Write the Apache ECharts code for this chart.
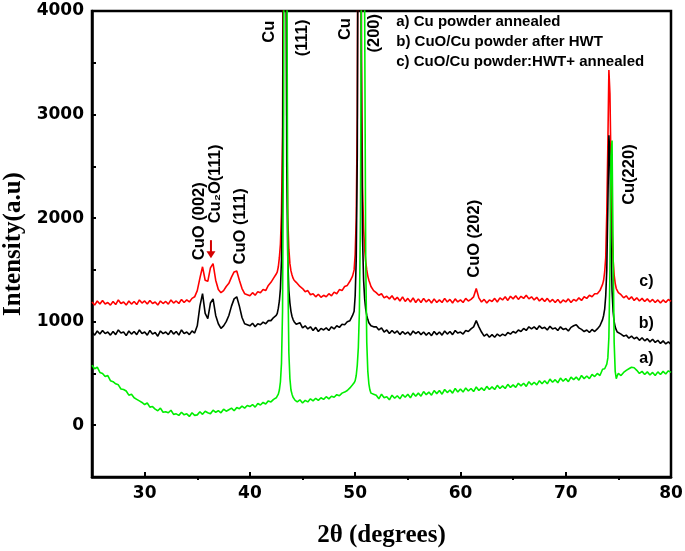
<!DOCTYPE html>
<html>
<head>
<meta charset="utf-8">
<script src="https://cdn.jsdelivr.net/npm/echarts@6/dist/echarts.min.js"></script>
<style>
html,body{margin:0;padding:0;background:#fff;}
#chart{width:685px;height:551px;}
</style>
</head>
<body>
<div id="chart"></div>
<script>
// ---- data ----
const twoTheta = [
  25,25.25,25.5,25.75,26,26.25,26.5,26.75,27,27.25,27.5,27.75,28,28.25,28.5,28.75,29,29.25,29.5,29.75,
  30,30.25,30.5,30.75,31,31.25,31.5,31.75,32,32.25,32.5,32.75,33,33.25,33.5,33.75,34,34.25,34.5,34.75,
  35,35.25,35.5,35.75,36,36.25,36.5,36.75,37,37.25,37.5,37.75,38,38.25,38.5,38.75,39,39.25,39.5,39.75,
  40,40.25,40.5,40.75,41,41.25,41.5,41.75,42,42.25,42.5,
  42.6,42.7,42.8,42.9,43,43.1,43.2,43.3,43.4,43.5,43.6,43.7,43.8,43.9,44,44.1,44.2,44.3,44.4,
  44.5,44.75,45,45.25,45.5,45.75,46,46.25,46.5,46.75,47,47.25,47.5,47.75,48,48.25,48.5,48.75,49,49.25,49.5,49.75,
  49.9,50,50.1,50.2,50.3,50.4,50.5,50.6,50.7,50.8,50.9,51,51.1,51.2,51.3,51.4,51.5,
  51.75,
  52,52.25,52.5,52.75,53,53.25,53.5,53.75,54,54.25,54.5,54.75,55,55.25,55.5,55.75,56,56.25,56.5,56.75,
  57,57.25,57.5,57.75,58,58.25,58.5,58.75,59,59.25,59.5,59.75,60,60.25,60.5,60.75,61,61.25,61.5,61.75,
  62,62.25,62.5,62.75,63,63.25,63.5,63.75,64,64.25,64.5,64.75,65,65.25,65.5,65.75,66,66.25,66.5,66.75,
  67,67.25,67.5,67.75,68,68.25,68.5,68.75,69,69.25,69.5,69.75,70,70.25,70.5,70.75,71,71.25,71.5,71.75,
  72,72.25,72.5,72.75,73,73.25,73.5,
  73.6,73.7,73.8,73.9,74,74.1,74.2,74.3,74.4,74.5,74.6,74.7,74.8,74.9,75,
  75.25,75.5,75.75,76,76.25,76.5,76.75,77,77.25,77.5,77.75,78,78.25,78.5,78.75,79,79.25,79.5,79.75,80
];

// a) Cu powder annealed (green)
const seriesA = [
  580,545,560,510, 500,470,480,430, 420,400,390,350, 345,330,290,300, 265,250,235,220,
  200,215,175,180, 155,140,165,125, 130,120,145,105, 110,95,125,100, 110,85,120,95,
  100,130,105,135, 120,110,145,125, 140,120,155,135, 150,165,140,170, 160,185,165,190,
  180,200,175,210, 195,220,205,235, 225,250,265,
  280,300,340,420,600,1100,3000,7000,9000,5000,1500,700,450,340,300,270,255,240,230,
  225,245,215,240,225,255,235,260,240,265,250,275,255,280,270,295,285,310,320,335,360,390,
  410,430,480,580,750,1100,2000,4500,9000,9000,4000,1600,800,520,400,340,310,
  300,
  290,255,300,265, 275,245,290,260, 285,255,295,270, 300,265,310,280, 310,280,325,295,
  320,290,335,305, 335,300,345,315, 340,310,355,320, 350,320,360,330, 355,325,370,335,
  360,335,375,345, 370,345,385,355, 380,355,395,365, 390,365,405,380, 405,375,420,390,
  415,390,430,400, 430,400,445,415, 440,410,455,425, 450,420,465,440, 465,435,480,450,
  475,450,490,470, 500,480,540,
  530,545,560,590,650,850,1500,2600,2750,1700,800,520,450,480,500,
  480,510,530, 545,560,555,530, 500,520,490,515, 485,510,480,515, 490,520,495,525, 510
];

// b) CuO/Cu powder after HWT (black)
const seriesB = [
  900,870,910,880, 915,885,900,870, 905,875,920,890, 900,865,910,880, 905,875,920,885,
  900,870,915,880, 895,860,910,885, 900,875,915,880, 905,870,920,885, 900,875,910,890,
  960,1150,1270,1080, 1030,1180,1220,1060, 980,935,960,1000, 1060,1150,1220,1240, 1150,1040,980,970,
  960,985,950,980, 970,995,980,1010, 1010,1040,1060,
  1080,1130,1200,1320,1600,2300,5000,9000,6000,2500,1600,1300,1180,1100,1050,1020,1000,990,975,
  970,990,940,960,930,950,915,945,905,935,920,940,915,950,930,960,945,975,970,1000,1010,1060,
  1100,1250,1600,2600,6000,9000,7000,3000,1800,1400,1220,1120,1060,1020,990,975,960,
  950,
  950,920,940,900, 920,885,915,890, 910,875,905,880, 900,870,910,885, 905,875,900,870,
  895,865,905,875, 900,870,910,880, 905,875,915,890, 900,880,915,905, 930,950,1010,950,
  900,860,880,850, 875,850,880,860, 880,865,895,880, 905,890,920,905, 935,915,950,930,
  950,925,960,935, 945,920,955,930, 940,915,950,925, 935,910,945,960, 970,940,925,905,
  920,895,925,905, 930,960,1020,
  1060,1120,1250,1500,2100,2800,2600,1800,1300,1100,1000,950,920,900,890,
  880,860,870, 840,860,835,850, 820,845,815,835, 805,830,800,820, 790,815,785,805, 780
];

// c) CuO/Cu powder: HWT + annealed (red)
const seriesC = [
  1190,1160,1200,1170, 1205,1170,1185,1160, 1195,1165,1210,1175, 1190,1160,1200,1170, 1195,1165,1210,1180,
  1200,1170,1205,1175, 1190,1160,1200,1175, 1195,1170,1210,1180, 1200,1175,1215,1185, 1210,1190,1225,1240,
  1300,1420,1530,1400, 1390,1520,1560,1400, 1310,1280,1300,1340, 1370,1430,1480,1490, 1400,1320,1270,1260,
  1250,1280,1255,1290, 1280,1310,1300,1350, 1380,1420,1460,
  1480,1530,1620,1750,2050,2800,5500,9000,6500,3000,2000,1700,1560,1490,1450,1420,1400,1390,1380,
  1390,1340,1320,1290,1300,1260,1270,1240,1265,1235,1255,1240,1270,1250,1285,1270,1310,1300,1340,1350,1390,1440,
  1500,1650,2000,3000,6500,9000,7500,3500,2300,1900,1700,1580,1500,1440,1400,1370,1340,
  1300,
  1280,1255,1270,1230, 1245,1220,1250,1210, 1235,1200,1240,1195, 1225,1190,1230,1185, 1220,1185,1225,1190,
  1215,1180,1220,1185, 1210,1185,1225,1190, 1215,1180,1220,1190, 1210,1185,1225,1200, 1215,1240,1320,1230,
  1190,1215,1180,1210, 1195,1225,1190,1230, 1210,1240,1205,1245, 1220,1250,1215,1245, 1225,1255,1220,1240,
  1210,1235,1200,1225, 1195,1225,1190,1215, 1185,1215,1180,1210, 1190,1220,1185,1215, 1200,1230,1205,1240,
  1225,1255,1240,1270, 1270,1300,1360,
  1400,1480,1620,2050,2700,3430,3200,2500,1900,1600,1450,1370,1320,1300,1280,
  1260,1230,1250, 1215,1240,1205,1230, 1200,1225,1195,1220, 1190,1215,1185,1210, 1180,1210,1185,1215, 1195
];

const xMajorTicks = [30, 40, 50, 60, 70, 80];
const xMinorTicks = [35, 45, 55, 65, 75];
const yTickLabels = [0, 1000, 2000, 3000, 4000];

const seriesNames = ['c) CuO/Cu powder:HWT+ annealed', 'b) CuO/Cu powder after HWT', 'a) Cu powder annealed'];
const legendLines = ['a) Cu powder annealed', 'b) CuO/Cu powder after HWT', 'c) CuO/Cu powder:HWT+ annealed'];

// peak annotations, anchored at data coordinates
const peakLabels = [
  { text: 'Cu',        x: 41.9,  y: 3800 },
  { text: '(111)',     x: 44.96, y: 3740 },
  { text: 'Cu',        x: 49.05, y: 3825 },
  { text: '(200)',     x: 51.8,  y: 3785 },
  { text: 'CuO (002)', x: 35.17, y: 1970 },
  { text: 'Cu₂O(111)', x: 36.7,  y: 2330 },
  { text: 'CuO (111)', x: 39.07, y: 1920 },
  { text: 'CuO (202)', x: 61.3,  y: 1800 },
  { text: 'Cu(220)',   x: 76.1,  y: 2420 }
];
const curveTags = [
  { text: 'c)', x: 77.66, y: 1390 },
  { text: 'b)', x: 77.66, y: 980 },
  { text: 'a)', x: 77.66, y: 640 }
];
const legendAnchor = { x: 53.9, y: [3893, 3699, 3505] };
const arrowAnchor = { x: 36.3, y: 1700 };

// ---- chart ----
const chart = echarts.init(document.getElementById('chart'), null, { renderer: 'canvas' });
const pair = (ys) => twoTheta.map((x, i) => [x, ys[i]]);
const sansBold = '"DejaVu Sans", "Liberation Sans", Arial, sans-serif';
const annFont = '"Liberation Sans", Arial, sans-serif';
const serif = '"Liberation Serif", "Times New Roman", serif';

const option = {
  animation: false,
  backgroundColor: '#fff',
  grid: { left: 92, right: 14, top: 11, bottom: 74, show: true, borderColor: '#000', borderWidth: 2.5,
          containLabel: false, outerBoundsMode: 'none' },
  xAxis: [{
    type: 'value', min: 25, max: 80, interval: 5,
    name: '2θ (degrees)', nameLocation: 'middle', nameGap: 46,
    nameTextStyle: { fontFamily: serif, fontWeight: 'bold', fontSize: 25, color: '#000' },
    axisLine: { show: true, onZero: false, lineStyle: { color: '#000', width: 2.5 } },
    axisTick: { show: true, inside: true, length: 5, customValues: xMajorTicks, lineStyle: { color: '#000', width: 2 } },
    axisLabel: { customValues: xMajorTicks, formatter: v => String(v), fontFamily: sansBold, fontWeight: 'bold', fontSize: 17, color: '#000', margin: 8 },
    splitLine: { show: false }
  }, {
    type: 'value', min: 25, max: 80, interval: 5, position: 'bottom',
    axisLine: { show: false, onZero: false },
    axisTick: { show: true, inside: false, length: 3, customValues: xMinorTicks, lineStyle: { color: '#000', width: 2 } },
    axisLabel: { show: false },
    splitLine: { show: false }
  }],
  yAxis: {
    type: 'value', min: -500, max: 4000, interval: 500,
    name: 'Intensity(a.u)', nameLocation: 'middle', nameGap: 64,
    nameTextStyle: { fontFamily: serif, fontWeight: 'bold', fontSize: 25, color: '#000' },
    axisLine: { show: true, onZero: false, lineStyle: { color: '#000', width: 2.5 } },
    axisTick: { show: true, inside: true, length: 4, lineStyle: { color: '#000', width: 2 } },
    axisLabel: { customValues: yTickLabels, formatter: v => String(v), fontFamily: sansBold, fontWeight: 'bold', fontSize: 17, color: '#000', margin: 8 },
    splitLine: { show: false }
  },
  series: [
    { name: seriesNames[0], type: 'line', data: pair(seriesC), showSymbol: false, symbol: 'none', clip: true,
      lineStyle: { color: '#ff0000', width: 1.6 }, itemStyle: { color: '#ff0000' } },
    { name: seriesNames[1], type: 'line', data: pair(seriesB), showSymbol: false, symbol: 'none', clip: true,
      lineStyle: { color: '#000000', width: 1.6 }, itemStyle: { color: '#000' } },
    { name: seriesNames[2], type: 'line', data: pair(seriesA), showSymbol: false, symbol: 'none', clip: true,
      lineStyle: { color: '#00ee00', width: 1.6 }, itemStyle: { color: '#00ee00' } }
  ]
};
chart.setOption(option);

function px(x, y) { return chart.convertToPixel({ gridIndex: 0 }, [x, y]); }

const graphics = [];
peakLabels.forEach(p => {
  const [gx, gy] = px(p.x, p.y);
  graphics.push({ type: 'text', x: gx, y: gy, rotation: Math.PI / 2, z: 100,
    style: { text: p.text, fill: '#000', font: 'bold 16.5px ' + annFont, align: 'center', verticalAlign: 'middle' } });
});
curveTags.forEach(p => {
  const [gx, gy] = px(p.x, p.y);
  graphics.push({ type: 'text', x: gx, y: gy, z: 100,
    style: { text: p.text, fill: '#000', font: 'bold 16px ' + annFont, align: 'center', verticalAlign: 'middle' } });
});
legendLines.forEach((t, i) => {
  const [gx, gy] = px(legendAnchor.x, legendAnchor.y[i]);
  graphics.push({ type: 'text', x: gx, y: gy, z: 100,
    style: { text: t, fill: '#000', font: 'bold 15px ' + annFont, align: 'left', verticalAlign: 'middle' } });
});
{
  const [ax, ay] = px(arrowAnchor.x, arrowAnchor.y);
  graphics.push({ type: 'line', z: 100, shape: { x1: ax, y1: ay - 9, x2: ax, y2: ay + 4 },
    style: { stroke: '#d40000', lineWidth: 2 } });
  graphics.push({ type: 'polygon', z: 100, shape: { points: [[ax - 4.5, ay + 2], [ax + 4.5, ay + 2], [ax, ay + 9]] },
    style: { fill: '#d40000' } });
}
chart.setOption({ graphic: graphics });
</script>
</body>
</html>
